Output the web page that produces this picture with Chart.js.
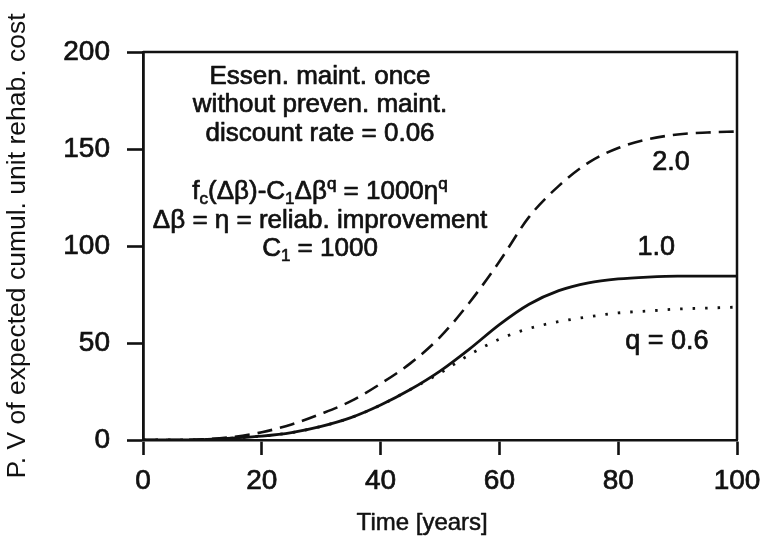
<!DOCTYPE html>
<html>
<head>
<meta charset="utf-8">
<script src="https://cdn.jsdelivr.net/npm/chart.js@4.4.1/dist/chart.umd.min.js"></script>
<style>
  html, body { margin: 0; padding: 0; background: #ffffff; }
  #wrap { width: 760px; height: 539px; position: relative; }
</style>
</head>
<body>
<div id="wrap"><canvas id="chart" width="760" height="539"></canvas></div>
<script>
// Time axis (years) and present value of expected cumulative unit rehab. cost
const years   = [0, 5, 10, 15, 20, 25, 30, 35, 40, 45, 50, 55, 60, 65, 70, 75, 80, 85, 90, 95, 100];
const costQ10 = [0, 0, 0.2, 1, 2, 3.8, 7, 11.5, 18, 26, 35.5, 47, 59.5, 70, 77, 81, 83, 84, 84.5, 84.5, 84.5];
const costQ20 = [0, 0, 0.3, 1.5, 4, 8, 13.5, 20, 29, 39.5, 53, 71, 92, 115, 131, 143, 150.5, 155, 157.5, 158.5, 159];
const costQ06 = [0, 0, 0.2, 1, 2, 3.8, 7, 11.5, 18, 26, 34.5, 44, 52, 57.5, 61, 63.5, 65.5, 66.5, 67.5, 68, 68.5];

const xTickValues = [0, 20, 40, 60, 80, 100];
const yTickValues = [0, 50, 100, 150, 200];

const xTitle = 'Time [years]';
const yTitle = 'P. V of expected cumul. unit rehab. cost';

// Note block, one entry per line; segments may be subscript or superscript
const noteLines = [
  [{ t: 'Essen. maint. once' }],
  [{ t: 'without preven. maint.' }],
  [{ t: 'discount rate = 0.06' }],
  [{ t: 'f' }, { t: 'c', sub: true }, { t: '(\u0394\u03B2)-C' }, { t: '1', sub: true }, { t: '\u0394\u03B2' }, { t: 'q', sup: true }, { t: ' = 1000\u03B7' }, { t: 'q', sup: true }],
  [{ t: '\u0394\u03B2 = \u03B7 = reliab. improvement' }],
  [{ t: 'C' }, { t: '1', sub: true }, { t: ' = 1000' }]
];
const noteX = 29.8;                                   // data x of the block centre
const noteY = [188, 173.5, 159, 129, 114, 99.5];      // data y of each line

// Curve labels placed in data coordinates
const curveLabels = [
  { text: '2.0',     x: 88.9, y: 143 },
  { text: '1.0',     x: 86.4, y: 99 },
  { text: 'q = 0.6', x: 88.2, y: 51 }
];

const FONT = '"Liberation Sans", Arial, Helvetica, sans-serif';
const INK = '#111';

function drawText(ctx, text, x, y) {
  ctx.strokeText(text, x, y);
  ctx.fillText(text, x, y);
}

function drawRichLine(ctx, segs, cx, cy) {
  const big = '26px ' + FONT, small = '17px ' + FONT;
  let total = 0;
  segs.forEach(s => { ctx.font = (s.sub || s.sup) ? small : big; total += ctx.measureText(s.t).width; });
  let x = cx - total / 2;
  ctx.textAlign = 'left';
  ctx.textBaseline = 'alphabetic';
  segs.forEach(s => {
    ctx.font = (s.sub || s.sup) ? small : big;
    let dy = 0;
    if (s.sub) dy = 5;
    if (s.sup) dy = -10;
    drawText(ctx, s.t, x, cy + 9 + dy);
    x += ctx.measureText(s.t).width;
  });
}

const framePlugin = {
  id: 'frameAndNotes',
  afterDraw(chart) {
    const { ctx, chartArea: a, scales } = chart;
    ctx.save();
    ctx.strokeStyle = INK;
    ctx.lineWidth = 2.5;
    ctx.beginPath();
    ctx.moveTo(a.left, a.top);
    ctx.lineTo(a.right, a.top);
    ctx.lineTo(a.right, a.bottom);
    ctx.stroke();

    ctx.fillStyle = INK;
    ctx.lineWidth = 0.7;
    ctx.lineJoin = 'round';
    noteLines.forEach((segs, i) => {
      drawRichLine(ctx, segs, scales.x.getPixelForValue(noteX), scales.y.getPixelForValue(noteY[i]));
    });

    ctx.font = '27px ' + FONT;
    ctx.textAlign = 'center';
    ctx.textBaseline = 'middle';
    curveLabels.forEach(l => {
      drawText(ctx, l.text, scales.x.getPixelForValue(l.x), scales.y.getPixelForValue(l.y));
    });

    // x-axis title
    ctx.font = '24px ' + FONT;
    ctx.lineWidth = 0.5;
    drawText(ctx, xTitle, a.left + a.width * 0.47, 523);
    ctx.restore();
  }
};

const toPoints = (vals) => years.map((t, i) => ({ x: t, y: vals[i] }));

new Chart(document.getElementById('chart'), {
  type: 'line',
  data: {
    datasets: [
      { label: '1.0', data: toPoints(costQ10), borderColor: INK, borderWidth: 2.8, pointRadius: 0, cubicInterpolationMode: 'monotone', fill: false },
      { label: '2.0', data: toPoints(costQ20), borderColor: INK, borderWidth: 2.6, borderDash: [15, 8], pointRadius: 0, cubicInterpolationMode: 'monotone', fill: false },
      { label: 'q = 0.6', data: toPoints(costQ06), borderColor: INK, borderWidth: 2.8, borderDash: [2.5, 10], pointRadius: 0, cubicInterpolationMode: 'monotone', fill: false }
    ]
  },
  options: {
    responsive: false,
    animation: false,
    events: [],
    layout: { padding: { top: 52, right: 23, left: 0, bottom: 0 } },
    plugins: { legend: { display: false }, tooltip: { enabled: false } },
    scales: {
      x: {
        type: 'linear',
        min: 0, max: 100,
        afterBuildTicks: (s) => { s.ticks = xTickValues.map(v => ({ value: v })); },
        afterFit: (s) => { s.height = 99; s.paddingLeft = 0; s.paddingRight = 0; },
        ticks: { color: INK, font: { family: FONT, size: 28 }, padding: 9, maxRotation: 0, textStrokeColor: INK, textStrokeWidth: 0.7 },
        grid: { drawOnChartArea: false, drawTicks: true, tickLength: 15, tickColor: INK, tickWidth: 2.6 },
        border: { display: true, color: INK, width: 2.6 },
        title: { display: false }
      },
      y: {
        type: 'linear',
        min: 0, max: 200,
        afterBuildTicks: (s) => { s.ticks = yTickValues.map(v => ({ value: v })); },
        afterFit: (s) => { s.width = 143; s.paddingTop = 0; s.paddingBottom = 0; },
        ticks: { color: INK, font: { family: FONT, size: 28 }, padding: 17, textStrokeColor: INK, textStrokeWidth: 0.7 },
        grid: { drawOnChartArea: false, drawTicks: true, tickLength: 16, tickColor: INK, tickWidth: 2.6 },
        border: { display: true, color: INK, width: 2.8 },
        title: { display: true, text: yTitle, color: INK, font: { family: FONT, size: 26.5 }, padding: { top: 2, bottom: 0 } }
      }
    }
  },
  plugins: [framePlugin]
});
</script>
</body>
</html>
